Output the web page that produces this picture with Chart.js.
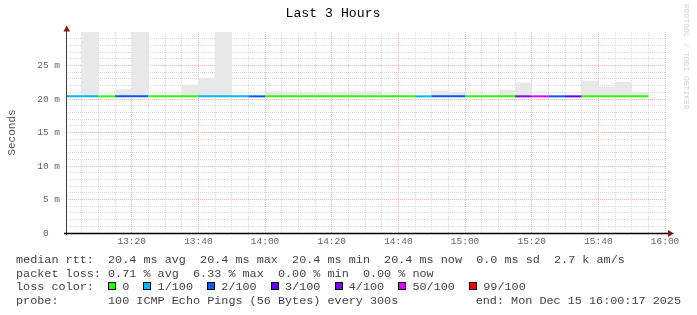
<!DOCTYPE html>
<html>
<head>
<meta charset="utf-8">
<script src="https://cdn.jsdelivr.net/npm/chart.js@4"></script>
<style>
  html, body { margin: 0; padding: 0; background: #fff; }
</style>
</head>
<body>
<canvas id="smokeChart" width="697" height="315"></canvas>
<script>
// 5 minute steps, 13:00 .. 15:50 (slot start times)
const slotStart = [
    '13:00', '13:05', '13:10', '13:15', '13:20', '13:25', '13:30', '13:35', '13:40', '13:45',
    '13:50', '13:55', '14:00', '14:05', '14:10', '14:15', '14:20', '14:25', '14:30', '14:35',
    '14:40', '14:45', '14:50', '14:55', '15:00', '15:05', '15:10', '15:15', '15:20', '15:25',
    '15:30', '15:35', '15:40', '15:45', '15:50'
];
const medianMs = [
    20.4, 20.4, 20.4, 20.4, 20.4, 20.4, 20.4, 20.4, 20.4, 20.4,
    20.4, 20.4, 20.4, 20.4, 20.4, 20.4, 20.4, 20.4, 20.4, 20.4,
    20.4, 20.4, 20.4, 20.4, 20.4, 20.4, 20.4, 20.4, 20.4, 20.4,
    20.4, 20.4, 20.4, 20.4, 20.4
];
// top of the smoke for each slot (null = no visible smoke above the median)
const smokeMaxMs = [
    null, 30, null, 21.4, 30, null, null, 22.1, 23.1, 30,
    null, null, 21.1, 20.9, 20.9, 20.9, 20.9, 21.1, 21.1, null,
    null, null, 21.2, 21.0, null, null, 21.3, 22.4, null, null,
    null, 22.7, 21.8, 22.5, 21.0
];
// index into lossColors for each slot
const lossIndex = [
    1, 1, 0, 2, 2, 0, 0, 0, 1, 1,
    1, 2, 0, 0, 0, 0, 0, 0, 0, 0,
    0, 1, 2, 2, 0, 0, 0, 4, 5, 2,
    3, 0, 0, 0, 0
];
const lossColors = ['#26ff00', '#00b8ff', '#0059ff', '#5e00ff', '#7e00ff', '#dd00ff', '#ff0000'];
const lossLabels = ['0', '1/100', '2/100', '3/100', '4/100', '50/100', '99/100'];

const xTickLabels = ['13:20', '13:40', '14:00', '14:20', '14:40', '15:00', '15:20', '15:40', '16:00'];
const yTickValues = [0, 5, 10, 15, 20, 25];
const yTickLabels = ['0', '5 m', '10 m', '15 m', '20 m', '25 m'];

const endTime = '16:00:17';
const rangeMinutes = 180;
const slotMinutes = 5;

const rttLine = 'median rtt:  20.4 ms avg  20.4 ms max  20.4 ms min  20.4 ms now  0.0 ms sd  2.7 k am/s';
const lossLine = 'packet loss: 0.71 % avg  6.33 % max  0.00 % min  0.00 % now';
const probeText = '100 ICMP Echo Pings (56 Bytes) every 300s';
const endText = 'end: Mon Dec 15 16:00:17 2025';

const MONO = '"Liberation Mono", "DejaVu Sans Mono", monospace';
const MINOR_GRID = 'rgba(170,170,170,0.45)';
const MAJOR_GRID = 'rgba(225,140,140,0.6)';

// minutes since the first slot
function toMin(t) {
    const [h0, m0] = slotStart[0].split(':').map(Number);
    const [h, m, s] = t.split(':').map(Number);
    return (h - h0) * 60 + (m - m0) + (s || 0) / 60;
}

function fmt(min) {
    const [h0, m0] = slotStart[0].split(':').map(Number);
    const total = h0 * 60 + m0 + Math.round(min);
    const h = Math.floor(total / 60), m = total % 60;
    return String(h).padStart(2, '0') + ':' + String(m).padStart(2, '0');
}

const xMax = toMin(endTime);
const xMin = xMax - rangeMinutes;

const medianPoints = slotStart.map((t, i) => ({ x: toMin(t), y: medianMs[i] }));
const last = slotStart.length - 1;
medianPoints.push({ x: toMin(slotStart[last]) + slotMinutes, y: medianMs[last] });

const smokePoints = slotStart.map((t, i) => ({
    x: toMin(t) + slotMinutes / 2,
    y: smokeMaxMs[i] == null ? null : [medianMs[i], smokeMaxMs[i]]
}));

const axesPlugin = {
    id: 'rrdAxes',
    afterDatasetsDraw(chart) {
        const { ctx, chartArea: a } = chart;
        ctx.save();
        ctx.strokeStyle = '#404040';
        ctx.lineWidth = 1;
        ctx.beginPath();
        ctx.moveTo(a.left + 0.5, a.bottom + 2);
        ctx.lineTo(a.left + 0.5, a.top - 1);
        ctx.stroke();

        ctx.strokeStyle = '#000';
        ctx.lineWidth = 1.5;
        ctx.beginPath();
        ctx.moveTo(a.left - 2, a.bottom + 0.5);
        ctx.lineTo(a.right + 3, a.bottom + 0.5);
        ctx.stroke();

        ctx.fillStyle = '#7a1a1a';
        ctx.beginPath();
        ctx.moveTo(a.left + 0.7, a.top - 6.5);
        ctx.lineTo(a.left - 2.5, a.top - 0.5);
        ctx.lineTo(a.left + 4, a.top - 0.5);
        ctx.closePath();
        ctx.fill();
        ctx.beginPath();
        ctx.moveTo(a.right + 8, a.bottom + 0.5);
        ctx.lineTo(a.right + 2, a.bottom - 3);
        ctx.lineTo(a.right + 2, a.bottom + 4);
        ctx.closePath();
        ctx.fill();
        ctx.restore();
    },
    afterDraw(chart) {
        const ctx = chart.ctx;
        ctx.save();
        // watermark
        ctx.translate(686, 4);
        ctx.rotate(Math.PI / 2);
        ctx.font = '8px ' + MONO;
        ctx.fillStyle = '#d4d4d4';
        ctx.textBaseline = 'middle';
        ctx.fillText('RRDTOOL / TOBI OETIKER', 0, 0);
        ctx.restore();

        // legend block
        ctx.save();
        ctx.font = '11.8px ' + MONO;
        ctx.fillStyle = '#444';
        ctx.textBaseline = 'middle';
        const x0 = 16;
        const cw = ctx.measureText('M').width;
        ctx.fillText(rttLine, x0, 260);
        ctx.fillText(lossLine, x0, 273.5);
        ctx.fillText('loss color:', x0, 287);
        let col = 13;
        lossLabels.forEach((lab, i) => {
            const sx = Math.round(x0 + col * cw);
            ctx.fillStyle = lossColors[i];
            ctx.fillRect(sx, 282, 8, 8);
            ctx.strokeStyle = '#000';
            ctx.lineWidth = 1;
            ctx.strokeRect(sx + 0.5, 282.5, 7, 7);
            ctx.fillStyle = '#444';
            ctx.fillText(lab, x0 + (col + 2) * cw, 287);
            col += 2 + lab.length + 2;
        });
        ctx.fillText('probe:', x0, 300.5);
        ctx.fillText(probeText, x0 + 13 * cw, 300.5);
        ctx.textAlign = 'right';
        ctx.fillText(endText, 681, 300.5);
        ctx.restore();
    }
};

new Chart(document.getElementById('smokeChart'), {
    type: 'line',
    data: {
        datasets: [
            {
                type: 'line',
                label: 'median rtt',
                data: medianPoints,
                order: 0,
                borderWidth: 2,
                borderCapStyle: 'butt',
                pointRadius: 0,
                stepped: true,
                fill: false,
                segment: {
                    borderColor: c => lossColors[lossIndex[c.p0DataIndex]]
                }
            },
            {
                type: 'bar',
                label: 'smoke',
                data: smokePoints,
                order: 1,
                grouped: false,
                backgroundColor: '#e8e8e8',
                borderWidth: 0,
                barPercentage: 1,
                categoryPercentage: 1
            }
        ]
    },
    options: {
        responsive: false,
        animation: false,
        events: [],
        layout: { padding: { left: 0, right: 31, top: 0, bottom: 0 } },
        plugins: {
            legend: { display: false },
            tooltip: { enabled: false },
            title: {
                display: true,
                text: 'Last 3 Hours',
                color: '#000',
                font: { family: MONO, size: 13.2, weight: 'normal' },
                padding: { top: 6, bottom: 10.2 }
            }
        },
        scales: {
            x: {
                type: 'linear',
                min: xMin,
                max: xMax,
                offset: false,
                afterBuildTicks: s => {
                    const ticks = [];
                    for (let v = slotMinutes; v <= xMax; v += slotMinutes) ticks.push({ value: v });
                    s.ticks = ticks;
                },
                afterFit: s => { s.height = 82; },
                grid: {
                    offset: false,
                    drawTicks: false,
                    lineWidth: 1,
                    color: c => c.tick && c.tick.value % 20 === 0 ? MAJOR_GRID : MINOR_GRID
                },
                border: { display: false, dash: [1, 1] },
                ticks: {
                    autoSkip: false,
                    maxRotation: 0,
                    minRotation: 0,
                    padding: 3,
                    color: '#666',
                    font: { family: MONO, size: 9.5 },
                    callback: v => xTickLabels.includes(fmt(v)) ? fmt(v) : ''
                }
            },
            y: {
                type: 'linear',
                min: 0,
                max: 30,
                afterBuildTicks: s => {
                    const ticks = [];
                    for (let v = 0; v < 30; v++) ticks.push({ value: v });
                    s.ticks = ticks;
                },
                afterFit: s => { s.width = 66; },
                grid: {
                    drawTicks: false,
                    lineWidth: 1,
                    color: c => {
                        const v = c.tick ? c.tick.value : 1;
                        if (v === 0) return 'rgba(0,0,0,0)';
                        return v % 5 === 0 ? MAJOR_GRID : MINOR_GRID;
                    }
                },
                border: { display: false, dash: [1, 1] },
                ticks: {
                    autoSkip: false,
                    padding: 6,
                    color: '#666',
                    font: { family: MONO, size: 9.5 },
                    callback: v => {
                        const i = yTickValues.indexOf(v);
                        if (i < 0) return '';
                        return v === 0 ? yTickLabels[i] + '  ' : yTickLabels[i];
                    }
                },
                title: {
                    display: true,
                    text: 'Seconds',
                    color: '#555',
                    font: { family: MONO, size: 11 },
                    padding: { top: 5, bottom: 0 }
                }
            }
        }
    },
    plugins: [axesPlugin]
});
</script>
</body>
</html>
